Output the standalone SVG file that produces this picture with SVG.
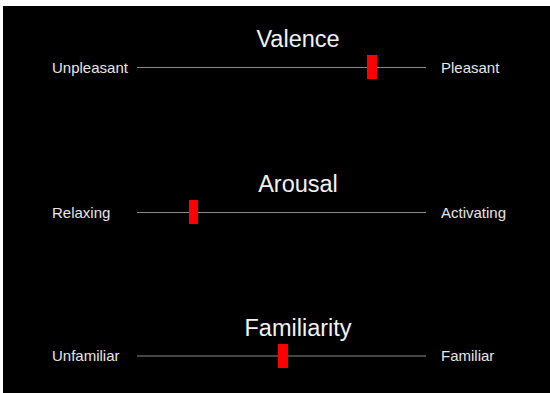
<svg xmlns="http://www.w3.org/2000/svg" width="550" height="393" viewBox="0 0 550 393">
<style>
.title{font-family:"Liberation Sans",Arial,sans-serif;font-size:23.5px;fill:#f2f2f2;text-anchor:middle}
.lbl{font-family:"Liberation Sans",Arial,sans-serif;font-size:15px;fill:#e6e6e6}
.track{stroke:#8a8a8a;stroke-width:1.2}
.mark{fill:#ff0000}
</style>
<rect x="0" y="0" width="550" height="393" fill="#ffffff"/>
<rect x="3" y="6" width="547" height="387" fill="#000000"/>
<g id="connectors">
<line class="track" x1="137" y1="67.5" x2="426" y2="67.5"/>
<line class="track" x1="137" y1="212.5" x2="426" y2="212.5"/>
<line class="track" x1="137" y1="356" x2="426" y2="356"/>
</g>
<g id="valence">
<text class="title" x="298" y="47">Valence</text>
<text class="lbl" x="52" y="73">Unpleasant</text>
<text class="lbl" x="441" y="73">Pleasant</text>
<rect class="mark" x="367" y="55" width="10" height="24"/>
</g>
<g id="arousal">
<text class="title" x="298" y="192">Arousal</text>
<text class="lbl" x="52" y="218">Relaxing</text>
<text class="lbl" x="441" y="218">Activating</text>
<rect class="mark" x="189" y="200" width="9" height="24"/>
</g>
<g id="familiarity">
<text class="title" x="298" y="336">Familiarity</text>
<text class="lbl" x="52" y="361">Unfamiliar</text>
<text class="lbl" x="441" y="361">Familiar</text>
<rect class="mark" x="278" y="344" width="10" height="24"/>
</g>
</svg>
